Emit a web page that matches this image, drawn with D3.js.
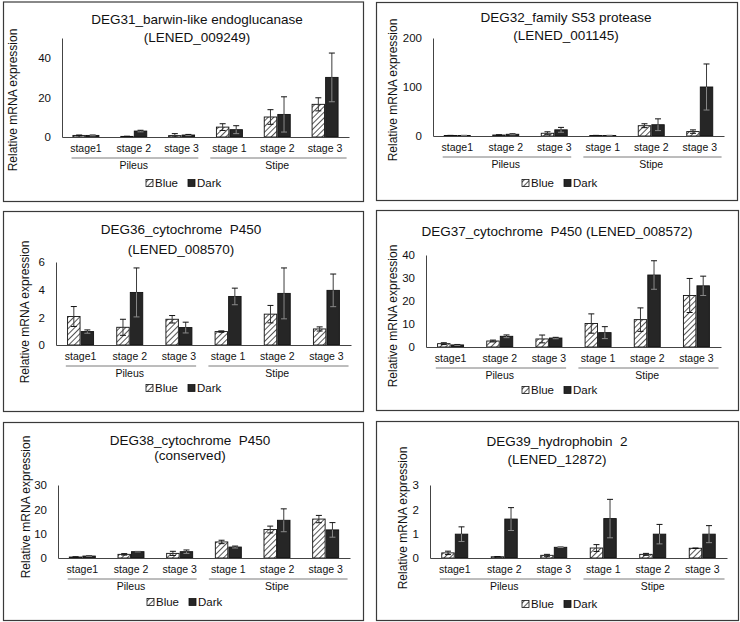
<!DOCTYPE html>
<html><head><meta charset="utf-8">
<script src="https://cdn.jsdelivr.net/npm/d3@7"></script>
<style>
body{margin:0;background:#fff}
text{font-family:"Liberation Sans",Arial,sans-serif;fill:#111}
</style>
</head><body><svg id="c" width="740" height="622"></svg>
<script>
// ---------- data ----------
const categories = ["stage1","stage 2","stage 3","stage 1","stage 2","stage 3"];
const groups = ["Pileus","Stipe"];
const seriesNames = ["Blue","Dark"];

const titles31 = ["DEG31_barwin-like endoglucanase","(LENED_009249)"];
const ticks31 = [0,20,40]; const max31 = 50;
const blue31 = [0.8,0.3,0.7,5.0,10.1,16.5];
const blueErr31 = [0.2,0.1,1.0,1.7,3.7,3.3];
const dark31 = [0.8,3.0,1.0,3.7,11.4,30.1];
const darkErr31 = [0.2,0.4,0.3,2.0,8.9,12.3];

const titles32 = ["DEG32_family S53 protease","(LENED_001145)"];
const ticks32 = [0,100,200]; const max32 = 200;
const blue32 = [1,2,5.6,1,21,9];
const blueErr32 = [0.3,0.5,3,0.3,4,3.5];
const dark32 = [1,3.5,12.6,1,23,100];
const darkErr32 = [0.3,1,5,0.3,12,47];

const titles36 = ["DEG36_cytochrome  P450","(LENED_008570)"];
const ticks36 = [0,2,4,6]; const max36 = 6;
const blue36 = [2.06,1.28,1.86,0.97,2.23,1.16];
const blueErr36 = [0.72,0.58,0.27,0.05,0.63,0.15];
const dark36 = [0.97,3.8,1.26,3.51,3.73,3.95];
const darkErr36 = [0.12,1.77,0.39,0.6,1.84,1.18];

const titles37 = ["DEG37_cytochrome  P450 (LENED_008572)"];
const ticks37 = [0,10,20,30,40]; const max37 = 40;
const blue37 = [1.45,2.6,3.5,10.2,11.9,22.4];
const blueErr37 = [0.4,0.4,1.7,4.2,5.1,7.4];
const dark37 = [0.9,4.65,3.9,6.25,31.3,26.6];
const darkErr37 = [0.2,0.6,0.3,2.6,6.2,4.2];

const titles38 = ["DEG38_cytochrome  P450","(conserved)"];
const ticks38 = [0,10,20,30]; const max38 = 30;
const blue38 = [0.4,1.5,1.9,6.6,11.7,16.0];
const blueErr38 = [0.1,0.3,0.85,0.7,1.4,1.5];
const dark38 = [0.8,2.6,2.6,4.5,15.5,11.55];
const darkErr38 = [0.1,0.1,0.7,0.4,4.7,3.0];

const titles39 = ["DEG39_hydrophobin  2","(LENED_12872)"];
const ticks39 = [0,1,2,3]; const max39 = 3;
const blue39 = [0.21,0.05,0.11,0.41,0.15,0.4];
const blueErr39 = [0.07,0.01,0.04,0.14,0.04,0.01];
const dark39 = [0.98,1.6,0.44,1.62,0.98,0.98];
const darkErr39 = [0.3,0.47,0.01,0.79,0.4,0.35];

const yLabel = "Relative mRNA expression";

// ---------- layout ----------
const panels = [
 {titles:titles31,ticks:ticks31,max:max31,blue:blue31,blueErr:blueErr31,dark:dark31,darkErr:darkErr31,
  box:[3,1.5,363,201],x0:62,x1:349,yTop:38,y0:137,tx:197,ty:[24,42],ytx:13,yty:100,legX:184,legY:183},
 {titles:titles32,ticks:ticks32,max:max32,blue:blue32,blueErr:blueErr32,dark:dark32,darkErr:darkErr32,
  box:[376,2,737,200],x0:433,x1:724,yTop:38,y0:136,tx:566,ty:[22,40],ytx:393,yty:90,legX:560,legY:183},
 {titles:titles36,ticks:ticks36,max:max36,blue:blue36,blueErr:blueErr36,dark:dark36,darkErr:darkErr36,
  box:[3,211,363,411],x0:56,x1:351,yTop:262,y0:345,tx:181,ty:[234,254],ytx:25,yty:312,legX:184,legY:388},
 {titles:titles37,ticks:ticks37,max:max37,blue:blue37,blueErr:blueErr37,dark:dark37,darkErr:darkErr37,
  box:[376,210,738,410],x0:426,x1:721,yTop:255,y0:347,tx:557,ty:[236],ytx:393,yty:316,legX:560,legY:390},
 {titles:titles38,ticks:ticks38,max:max38,blue:blue38,blueErr:blueErr38,dark:dark38,darkErr:darkErr38,
  box:[3,422,363,620],x0:58,x1:350,yTop:485,y0:558,tx:190,ty:[445,460],ytx:26,yty:507,legX:185,legY:602},
 {titles:titles39,ticks:ticks39,max:max39,blue:blue39,blueErr:blueErr39,dark:dark39,darkErr:darkErr39,
  box:[376,421,738,620],x0:430,x1:727,yTop:485,y0:558,tx:557,ty:[446,464],ytx:403,yty:518,legX:560,legY:604}
];

const svg = d3.select("#c");
const defs = svg.append("defs");
const pat = defs.append("pattern").attr("id","hatch").attr("patternUnits","userSpaceOnUse")
  .attr("width",4).attr("height",4).attr("patternTransform","rotate(45)");
pat.append("rect").attr("width",4).attr("height",4).attr("fill","#fff");
pat.append("line").attr("x1",0).attr("y1",0).attr("x2",0).attr("y2",4)
  .attr("stroke","#2a2a2a").attr("stroke-width",1.6);

svg.append("rect").attr("width",740).attr("height",622).attr("fill","#fff");

const FONT = "Liberation Sans, Arial, sans-serif";

panels.forEach(p => {
  const g = svg.append("g");
  const [bx0,by0,bx1,by1] = p.box;
  g.append("rect").attr("x",bx0+0.5).attr("y",by0+0.5).attr("width",bx1-bx0).attr("height",by1-by0)
    .attr("fill","#fff").attr("stroke","#3a3a3a").attr("stroke-width",1.2);

  // title
  p.titles.forEach((t,i) => {
    g.append("text").attr("x",p.tx).attr("y",p.ty[i]).attr("text-anchor","middle")
      .style("white-space","pre").attr("font-size",13.5).text(t);
  });

  const x = d3.scaleBand().domain(d3.range(categories.length)).range([p.x0,p.x1]);
  const xs = d3.scaleBand().domain(seriesNames).range([-13,13]).paddingInner(0.08);
  const y = d3.scaleLinear().domain([0,p.max]).range([p.y0,p.yTop]);

  // y axis
  const ya = g.append("g").attr("transform",`translate(${p.x0},0)`)
    .call(d3.axisLeft(y).tickValues(p.ticks).tickFormat(d3.format("d")).tickSize(0).tickPadding(11).tickSizeOuter(0));
  ya.select(".domain").attr("stroke","#444");
  ya.selectAll("text").attr("font-size",11.5).attr("font-family",FONT).attr("fill","#111");

  // y title
  g.append("text").attr("transform",`translate(${p.ytx},${p.yty}) rotate(-90)`)
    .attr("text-anchor","middle").attr("dominant-baseline","central").attr("font-size",12).text(yLabel);

  // bars
  const series = [
    {name:"Blue", vals:p.blue, errs:p.blueErr, fill:"url(#hatch)"},
    {name:"Dark", vals:p.dark, errs:p.darkErr, fill:"#262626"}
  ];
  series.forEach(s => {
    const cx = i => x(i) + x.bandwidth()/2 + xs(s.name);
    g.selectAll(null).data(s.vals).join("rect")
      .attr("x",(d,i)=>cx(i)).attr("width",xs.bandwidth())
      .attr("y",d=>y(d)).attr("height",d=>p.y0-y(d))
      .attr("fill",s.fill).attr("stroke","#111").attr("stroke-width",0.9);
  });
  series.forEach(s => {
    const mx = i => x(i) + x.bandwidth()/2 + xs(s.name) + xs.bandwidth()/2;
    s.vals.forEach((v,i) => {
      const e = s.errs[i];
      const top = y(v+e), bot = y(Math.max(0,v-e));
      const col = "#3c3c3c";
      const inner = s.name==="Dark" ? "#8a8a8a" : col;
      g.append("line").attr("x1",mx(i)).attr("x2",mx(i)).attr("y1",top).attr("y2",y(v))
        .attr("stroke",col).attr("stroke-width",1);
      g.append("line").attr("x1",mx(i)).attr("x2",mx(i)).attr("y1",y(v)).attr("y2",bot)
        .attr("stroke",inner).attr("stroke-width",1);
      g.append("line").attr("x1",mx(i)-3).attr("x2",mx(i)+3).attr("y1",top).attr("y2",top)
        .attr("stroke","#111").attr("stroke-width",1);
      g.append("line").attr("x1",mx(i)-3).attr("x2",mx(i)+3).attr("y1",bot).attr("y2",bot)
        .attr("stroke",s.name==="Dark"?inner:"#111").attr("stroke-width",1);
    });
  });

  // x axis with category labels
  const xa = g.append("g").attr("transform",`translate(0,${p.y0})`)
    .call(d3.axisBottom(x).tickSize(0).tickSizeOuter(0).tickPadding(7.5).tickFormat(i=>categories[i]));
  xa.select(".domain").attr("stroke","#444");
  xa.selectAll("text").attr("font-size",10.5).attr("font-family",FONT).attr("fill","#111");

  // group lines and labels
  const bw = x.step();
  groups.forEach((gr,k) => {
    const gx0 = p.x0 + k*3*bw;
    g.append("line").attr("x1",gx0 + (k===0?0.2:0.1)*bw).attr("x2",gx0 + (k===0?2.85:2.95)*bw)
      .attr("y1",p.y0+21).attr("y2",p.y0+21).attr("stroke","#7a7a7a").attr("stroke-width",1);
    g.append("text").attr("x",gx0+1.5*bw).attr("y",p.y0+28).attr("dominant-baseline","central")
      .attr("text-anchor","middle").attr("font-size",10.5).text(gr);
  });

  // legend
  const lg = g.append("g").attr("transform",`translate(${p.legX},${p.legY})`);
  lg.append("rect").attr("x",-38).attr("y",-3.5).attr("width",7).attr("height",7)
    .attr("fill","url(#hatch)").attr("stroke","#111").attr("stroke-width",0.8);
  lg.append("text").attr("x",-29).attr("y",0).attr("dominant-baseline","central").attr("font-size",11.5).text(seriesNames[0]);
  lg.append("rect").attr("x",4).attr("y",-3.5).attr("width",7).attr("height",7)
    .attr("fill","#262626").attr("stroke","#111").attr("stroke-width",0.8);
  lg.append("text").attr("x",13).attr("y",0).attr("dominant-baseline","central").attr("font-size",11.5).text(seriesNames[1]);
});
</script>
</body></html>
